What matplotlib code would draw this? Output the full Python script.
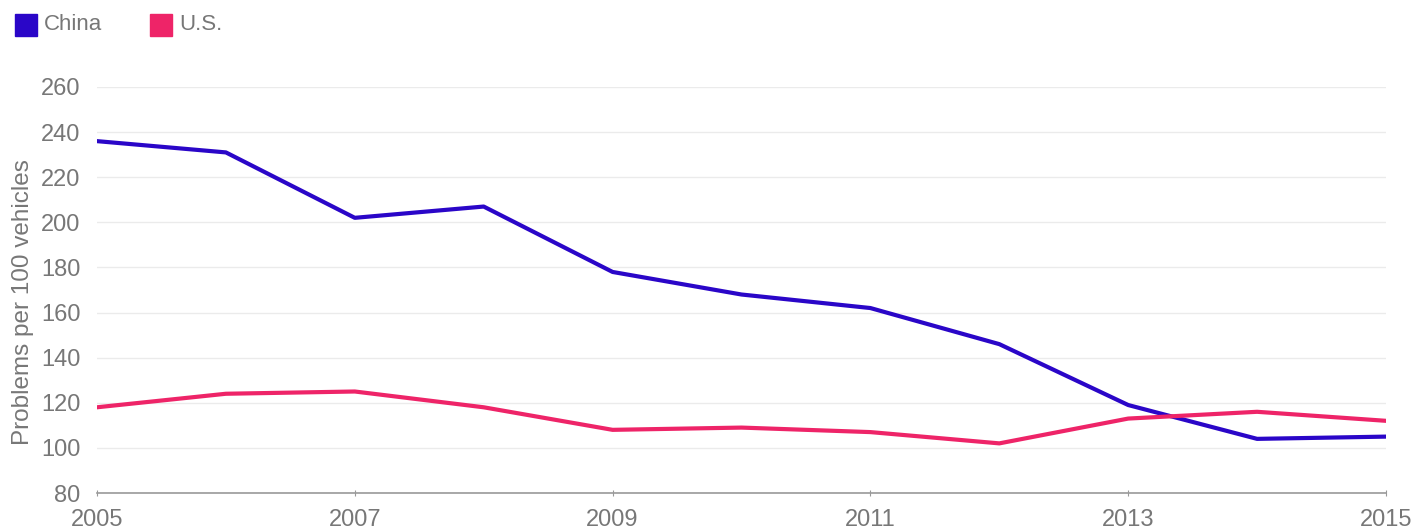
import matplotlib.pyplot as plt
from matplotlib.patches import Rectangle

years = [2005, 2006, 2007, 2008, 2009, 2010, 2011, 2012, 2013, 2014, 2015]
china = [236, 231, 202, 207, 178, 168, 162, 146, 119, 104, 105]
us = [118, 124, 125, 118, 108, 109, 107, 102, 113, 116, 112]
series_names = ["China", "U.S."]
x_ticks = [2005, 2007, 2009, 2011, 2013, 2015]
y_ticks = [80, 100, 120, 140, 160, 180, 200, 220, 240, 260]

china_color = "#2a06c8"
us_color = "#ee2468"
text_color = "#777777"

plt.rcParams['font.family'] = ['Liberation Sans', 'DejaVu Sans']

W, H = 1419, 532
fig = plt.figure(figsize=(W / 100, H / 100), dpi=100)
ax = fig.add_axes([97 / W, 1 - 493 / H, (1386 - 97) / W, (493 - 87) / H])

ax.plot(years, china, color=china_color, lw=3, solid_joinstyle='round', zorder=3)
ax.plot(years, us, color=us_color, lw=3, solid_joinstyle='round', zorder=3)

ax.set_xlim(2005, 2015)
ax.set_ylim(80, 260)
ax.set_xticks(x_ticks)
ax.set_yticks(y_ticks)
ax.grid(axis='y', color='#ebebeb', lw=1)
ax.set_axisbelow(True)

for s in ['top', 'right', 'left']:
    ax.spines[s].set_visible(False)
ax.spines['bottom'].set_color('#999999')
ax.spines['bottom'].set_linewidth(1.2)

ax.tick_params(axis='y', length=0, labelsize=17, labelcolor=text_color, pad=12)
ax.tick_params(axis='x', length=5, direction='inout', color='#999999',
               labelsize=17, labelcolor=text_color, pad=9)

ax.set_ylabel("Problems per 100 vehicles", fontsize=17.5, color=text_color)
ax.yaxis.set_label_coords(-0.049, 0.47)

# legend: square swatches with labels
for i, (name, col) in enumerate(zip(series_names, [china_color, us_color])):
    x0 = [15, 150][i]
    fig.patches.append(Rectangle((x0 / W, 1 - 36 / H), 22 / W, 22 / H,
                                 transform=fig.transFigure, color=col))
    fig.text((x0 + 29) / W, 1 - 25 / H, name, fontsize=16, color=text_color,
             va='center', ha='left')

fig.savefig("out.png", dpi=100, facecolor='white')
